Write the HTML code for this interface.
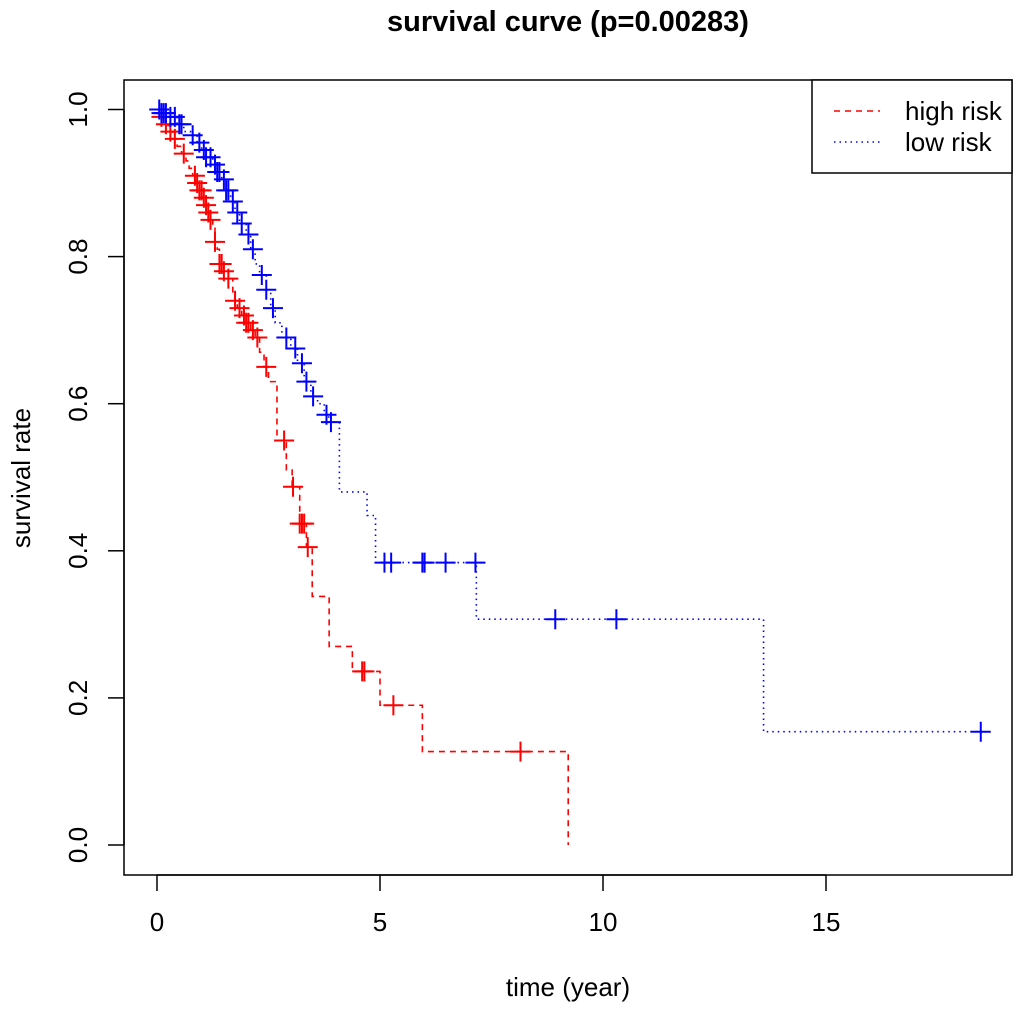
<!DOCTYPE html>
<html><head><meta charset="utf-8"><style>
body{margin:0;background:#fff}
svg text{font-family:"Liberation Sans",Arial,sans-serif;fill:#000}
</style></head><body>
<svg id="chart" width="1020" height="1005" xmlns="http://www.w3.org/2000/svg">
<text x="568" y="31" font-size="29" font-weight="bold" text-anchor="middle">survival curve (p=0.00283)</text>
<rect x="124" y="80" width="888" height="795" fill="none" stroke="#000" stroke-width="1.5"/>
<g id="xaxis"></g>
<g id="yaxis"></g>
<text x="568" y="996" font-size="26" text-anchor="middle">time (year)</text>
<text transform="translate(30,478) rotate(-90)" font-size="26" text-anchor="middle">survival rate</text>
<g id="series"></g>
<g>
<rect x="812" y="80" width="200" height="93" fill="#fff" stroke="#000" stroke-width="1.5"/>
<line x1="834" y1="111" x2="880" y2="111" stroke="#ff0000" stroke-width="1.5" stroke-dasharray="6,5"/>
<text x="905" y="120" font-size="26">high risk</text>
<line x1="834" y1="142" x2="880" y2="142" stroke="#0000ff" stroke-width="1.5" stroke-dasharray="1.5,4"/>
<text x="905" y="151" font-size="26">low risk</text>
</g>
</svg>
<script>
const xTicks = [0, 5, 10, 15];
const yTicks = [0.0, 0.2, 0.4, 0.6, 0.8, 1.0];
const yTickLabels = ["0.0", "0.2", "0.4", "0.6", "0.8", "1.0"];

const highTimes = [0.05,0.15,0.25,0.35,0.45,0.55,0.65,0.72,0.8,0.88,0.95,1.02,1.1,1.15,1.2,1.25,1.3,1.35,1.4,1.5,1.6,1.7,1.75,1.8,1.9,2.0,2.1,2.2,2.3,2.4,2.5,2.69,2.9,3.03,3.2,3.35,3.48,3.86,4.38,5.0,5.95,9.22];
const highSurv = [0.99,0.98,0.97,0.96,0.95,0.94,0.93,0.92,0.91,0.90,0.89,0.88,0.87,0.86,0.85,0.84,0.82,0.81,0.79,0.78,0.77,0.75,0.74,0.73,0.72,0.71,0.70,0.69,0.67,0.65,0.63,0.55,0.51,0.487,0.437,0.405,0.338,0.27,0.236,0.19,0.127,0];
const highCensor = [0.1,0.2,0.3,0.4,0.6,0.85,0.9,0.95,1.0,1.05,1.1,1.15,1.2,1.3,1.4,1.45,1.5,1.6,1.75,1.85,1.95,2.0,2.05,2.15,2.25,2.45,2.85,3.05,3.2,3.25,3.3,3.38,4.6,4.65,5.3,8.15];

const lowTimes = [0.1,0.3,0.45,0.6,0.75,0.9,1.0,1.1,1.25,1.35,1.45,1.55,1.65,1.75,1.85,2.0,2.1,2.2,2.3,2.45,2.55,2.65,2.8,3.0,3.15,3.3,3.45,3.6,3.75,3.85,4.09,4.71,4.9,7.16,13.6];
const lowSurv = [0.995,0.99,0.98,0.97,0.965,0.955,0.945,0.935,0.925,0.915,0.905,0.89,0.875,0.86,0.845,0.83,0.81,0.79,0.775,0.755,0.73,0.71,0.69,0.675,0.655,0.63,0.61,0.6,0.585,0.575,0.48,0.448,0.384,0.307,0.154];
const lowCensor = [0.05,0.1,0.15,0.2,0.3,0.4,0.5,0.55,0.8,0.95,1.05,1.1,1.2,1.3,1.35,1.4,1.5,1.55,1.6,1.7,1.8,1.9,2.05,2.15,2.35,2.45,2.6,2.9,3.1,3.25,3.35,3.5,3.8,3.9,5.1,5.25,5.95,6.0,6.47,7.14,8.93,10.3,18.47];
const lowEnd = 18.47;
const highEnd = 9.22;

const NS = "http://www.w3.org/2000/svg";
function xs(t){ return 157 + t * 44.6; }
function ys(s){ return 845 - s * 735.5; }
function mk(tag, attrs, parent){
  const e = document.createElementNS(NS, tag);
  for (const k in attrs) e.setAttribute(k, attrs[k]);
  parent.appendChild(e);
  return e;
}
const xg = document.getElementById('xaxis');
mk('line',{x1:xs(0),y1:875,x2:xs(15),y2:875,stroke:'#000','stroke-width':1.5},xg);
xTicks.forEach(t=>{
  const l = mk('line',{x1:xs(t),y1:875,x2:xs(t),y2:891,stroke:'#000','stroke-width':1.5},xg);
  
  
  const tx = mk('text',{x:xs(t),y:931,'font-size':26,'text-anchor':'middle'},xg);
  tx.textContent = t;
  
  
});
const yg = document.getElementById('yaxis');
mk('line',{x1:124,y1:ys(0),x2:124,y2:ys(1),stroke:'#000','stroke-width':1.5},yg);
yTicks.forEach((v,i)=>{
  const l = mk('line',{x1:108,y1:ys(v),x2:124,y2:ys(v),stroke:'#000','stroke-width':1.5},yg);
  
  
  const tx = mk('text',{transform:`translate(87,${ys(v)}) rotate(-90)`,'font-size':26,'text-anchor':'middle'},yg);
  tx.textContent = yTickLabels[i];
  
  
});

function survAt(times, surv, t){
  let s = 1;
  for (let i=0;i<times.length;i++){ if (times[i] <= t) s = surv[i]; }
  return s;
}
function drawSeries(times, surv, censor, end, color, dash, name){
  const g = mk('g',{},document.getElementById('series'));
  
  
  let d = `M${xs(0)},${ys(1)}`;
  times.forEach((t,i)=>{ d += ` H${xs(t)} V${ys(surv[i])}`; });
  const lastT = times[times.length-1];
  if (end > lastT) d += ` H${xs(end)}`;
  const p = mk('path',{d:d,fill:'none',stroke:color,'stroke-width':1.6,'stroke-dasharray':dash},g);
  
  
  censor.forEach(t=>{
    const x = xs(t), y = ys(survAt(times,surv,t));
    const c = mk('path',{d:`M${x-10},${y} H${x+10} M${x},${y-10} V${y+10}`,stroke:color,'stroke-width':2,fill:'none'},g);
    
    
  });
}
drawSeries(highTimes, highSurv, highCensor, highEnd, '#ff0000', '6,5', 'high-risk');
drawSeries(lowTimes, lowSurv, lowCensor, lowEnd, '#0000ff', '1.5,4', 'low-risk');
</script>
</body></html>
